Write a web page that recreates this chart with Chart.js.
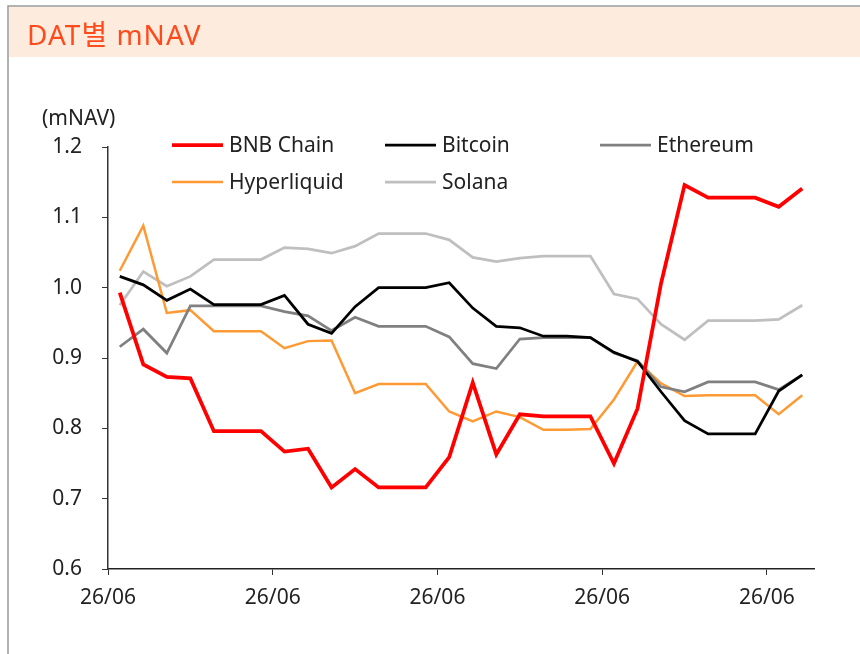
<!DOCTYPE html>
<html>
<head>
<meta charset="utf-8">
<script src="https://cdn.jsdelivr.net/npm/chart.js@4"></script>
<style>
  html, body { margin: 0; padding: 0; background: #fff; }
  canvas { display: block; }
</style>
</head>
<body>
<canvas id="chart" width="860" height="654"></canvas>
<script>
// values, 30 daily points
const bnbChain = [0.993, 0.891, 0.873, 0.871, 0.796, 0.796, 0.796, 0.767, 0.771, 0.716,
  0.742, 0.716, 0.716, 0.716, 0.759, 0.865, 0.763, 0.820, 0.817, 0.817,
  0.817, 0.750, 0.828, 1.006, 1.146, 1.128, 1.128, 1.128, 1.115, 1.141];
const bitcoin = [1.016, 1.004, 0.982, 0.998, 0.976, 0.976, 0.976, 0.989, 0.948, 0.935,
  0.973, 1.000, 1.000, 1.000, 1.007, 0.971, 0.945, 0.943, 0.931, 0.931,
  0.929, 0.908, 0.895, 0.852, 0.811, 0.792, 0.792, 0.792, 0.853, 0.876];
const ethereum = [0.916, 0.941, 0.907, 0.974, 0.974, 0.974, 0.974, 0.966, 0.960, 0.939,
  0.958, 0.945, 0.945, 0.945, 0.930, 0.892, 0.885, 0.927, 0.929, 0.929,
  0.929, 0.907, 0.896, 0.859, 0.852, 0.866, 0.866, 0.866, 0.855, 0.876];
const hyperliquid = [1.024, 1.088, 0.964, 0.968, 0.938, 0.938, 0.938, 0.914, 0.924, 0.925,
  0.850, 0.863, 0.863, 0.863, 0.824, 0.810, 0.824, 0.816, 0.798, 0.798,
  0.799, 0.841, 0.895, 0.864, 0.846, 0.847, 0.847, 0.847, 0.820, 0.847];
const solana = [0.975, 1.023, 1.002, 1.016, 1.040, 1.040, 1.040, 1.057, 1.055, 1.049,
  1.059, 1.077, 1.077, 1.077, 1.068, 1.043, 1.037, 1.042, 1.045, 1.045,
  1.045, 0.991, 0.984, 0.948, 0.926, 0.953, 0.953, 0.953, 0.955, 0.975];

const seriesNames = ['BNB Chain', 'Bitcoin', 'Ethereum', 'Hyperliquid', 'Solana'];
const xTickLabels = ['26/06', '26/06', '26/06', '26/06', '26/06'];
const xTickPositions = [-0.5, 6.5, 13.5, 20.5, 27.5];

const FONT = "'Noto Sans', 'Noto Sans CJK KR', sans-serif";
Chart.defaults.font.family = FONT;
Chart.defaults.font.size = 21;
Chart.defaults.color = '#222';

function toPoints(arr) {
  return arr.map((v, i) => ({ x: i, y: v }));
}

const styles = [
  { color: '#FF0000', width: 3.75 },
  { color: '#000000', width: 2.75 },
  { color: '#808080', width: 2.75 },
  { color: '#FF9933', width: 2.5 },
  { color: '#BFBFBF', width: 2.75 },
];
const allSeries = [bnbChain, bitcoin, ethereum, hyperliquid, solana];

const datasets = allSeries.map((s, k) => ({
  label: seriesNames[k],
  data: toPoints(s),
  borderColor: styles[k].color,
  backgroundColor: styles[k].color,
  borderWidth: styles[k].width,
  pointRadius: 0,
  tension: 0,
}));

// frame, title bar, y-axis unit and a legend laid out in columns
const decor = {
  id: 'decor',
  beforeDraw(chart) {
    const ctx = chart.ctx;
    ctx.save();
    ctx.fillStyle = '#FDECDE';
    ctx.fillRect(9, 7, 851, 50);
    ctx.strokeStyle = '#999';
    ctx.lineWidth = 1.5;
    ctx.beginPath();
    ctx.moveTo(8, 654);
    ctx.lineTo(8, 6);
    ctx.lineTo(860, 6);
    ctx.stroke();
    ctx.fillStyle = '#FF4A1C';
    ctx.font = "28px " + FONT;
    ctx.letterSpacing = '1px';
    ctx.textBaseline = 'alphabetic';
    ctx.fillText('DAT별 mNAV', 27, 45);
    ctx.letterSpacing = '0px';
    ctx.fillStyle = '#222';
    ctx.font = "21px " + FONT;
    ctx.textBaseline = 'middle';
    ctx.fillText('(mNAV)', 42, 119);
    ctx.restore();
  },
  afterDraw(chart) {
    const ctx = chart.ctx;
    const cols = [172, 385, 600];
    const rows = [145, 182];
    ctx.save();
    ctx.font = "21px " + FONT;
    ctx.textBaseline = 'middle';
    chart.data.datasets.forEach((ds, k) => {
      const x = cols[k % 3];
      const y = rows[Math.floor(k / 3)];
      ctx.strokeStyle = ds.borderColor;
      ctx.lineWidth = ds.borderWidth;
      ctx.beginPath();
      ctx.moveTo(x, y);
      ctx.lineTo(x + 51, y);
      ctx.stroke();
      ctx.fillStyle = '#222';
      ctx.fillText(ds.label, x + 57, y + 1);
    });
    ctx.restore();
  },
};

new Chart(document.getElementById('chart'), {
  type: 'line',
  data: { datasets },
  options: {
    responsive: false,
    animation: false,
    devicePixelRatio: 1,
    layout: { padding: { left: 0, top: 147, right: 46, bottom: 0 } },
    plugins: {
      legend: { display: false },
      tooltip: { enabled: false },
    },
    scales: {
      x: {
        type: 'linear',
        min: -0.5,
        max: 29.5,
        afterBuildTicks(scale) {
          scale.ticks = xTickPositions.map((v) => ({ value: v }));
        },
        afterFit(scale) {
          scale.height = 85;
        },
        ticks: {
          autoSkip: false,
          maxRotation: 0,
          padding: 10,
          color: '#222',
          callback: (v, i) => xTickLabels[i],
        },
        grid: {
          drawOnChartArea: false,
          drawTicks: true,
          tickLength: 6,
          color: '#333',
        },
        border: { color: '#222', width: 1.5 },
      },
      y: {
        min: 0.6,
        max: 1.2,
        afterFit(scale) {
          scale.width = 108;
        },
        ticks: {
          stepSize: 0.1,
          padding: 20,
          color: '#222',
          callback: (v) => Number(v).toFixed(1),
        },
        grid: {
          drawOnChartArea: false,
          drawTicks: true,
          tickLength: 6,
          color: '#333',
        },
        border: { color: '#333', width: 1.5 },
      },
    },
  },
  plugins: [decor],
});
</script>
</body>
</html>
